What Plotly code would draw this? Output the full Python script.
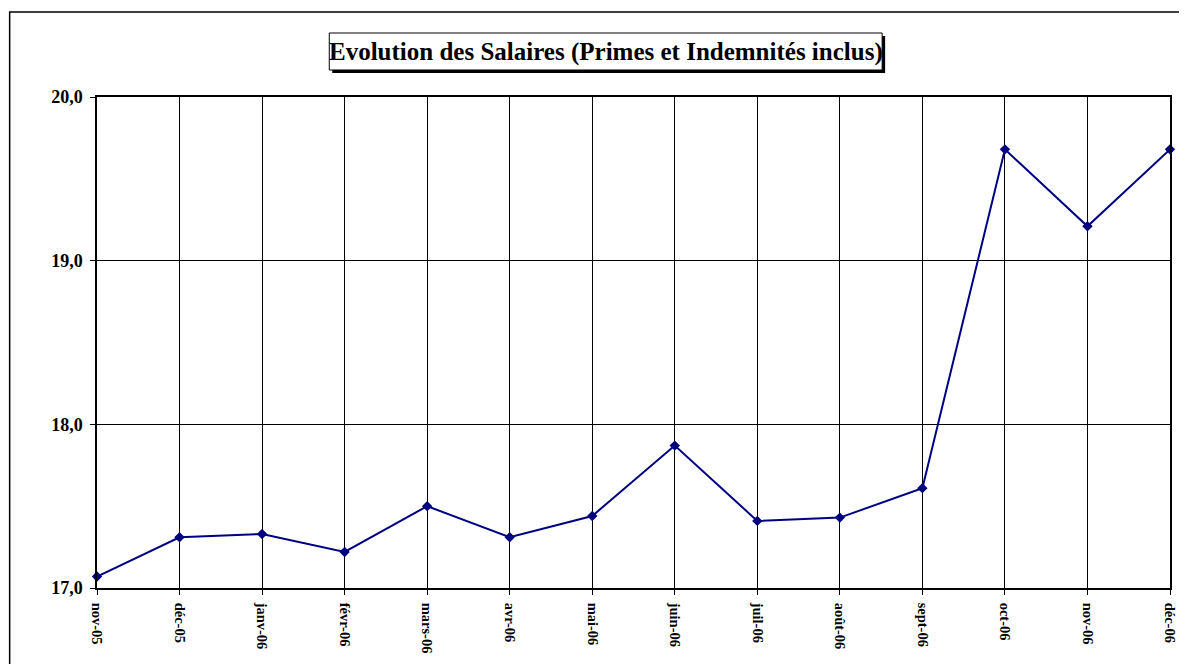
import plotly.graph_objects as go

months = ["nov-05", "déc-05", "janv-06", "févr-06", "mars-06", "avr-06", "mai-06",
          "juin-06", "juil-06", "août-06", "sept-06", "oct-06", "nov-06", "déc-06"]
salaires = [17.07, 17.31, 17.33, 17.22, 17.50, 17.31, 17.44,
            17.87, 17.41, 17.43, 17.61, 19.68, 19.21, 19.68]
title_text = "Evolution des Salaires (Primes et Indemnités inclus)"

# page body has an 8px margin; figure coordinates are screen coords minus 8
OFF = 8
W, H = 1187 - OFF, 664 - OFF
L, R, T, B = 97 - OFF, 1178 - OFF, 97 - OFF, 588 - OFF
pw, ph = R - L, B - T

def px(x):
    return (x - OFF - L) / pw

def py(y):
    return (B - (y - OFF)) / ph

fig = go.Figure()
fig.add_trace(go.Scatter(
    x=months, y=salaires, mode="lines+markers",
    line=dict(color="#000080", width=2),
    marker=dict(symbol="diamond", size=8, color="#000080"),
    showlegend=False, cliponaxis=False,
))

font = "Liberation Serif, Times New Roman, serif"
fig.update_layout(
    width=W, height=H,
    margin=dict(l=L, r=W - R, t=T, b=H - B),
    paper_bgcolor="white", plot_bgcolor="white",
    separators=", ",
    font=dict(family=font, color="black"),
    xaxis=dict(
        type="category", range=[0, len(months) - 1],
        showgrid=True, gridcolor="black", gridwidth=1,
        showline=True, linecolor="black", linewidth=1.5, mirror=True,
        ticks="outside", ticklen=5, tickcolor="black",
        tickangle=90, ticklabelstandoff=5,
        tickfont=dict(family=font, size=14.5, color="black", weight="bold"),
        zeroline=False,
    ),
    yaxis=dict(
        range=[17, 20], dtick=1, tickformat=".1f",
        showgrid=True, gridcolor="black", gridwidth=1,
        showline=True, linecolor="black", linewidth=1.5, mirror=True,
        ticks="outside", ticklen=5, tickcolor="black", ticklabelstandoff=4,
        tickfont=dict(family=font, size=18, color="black", weight="bold"),
        zeroline=False,
    ),
    shapes=[
        # outer chart border
        dict(type="rect", xref="paper", yref="paper",
             x0=px(9), x1=px(1400), y0=py(900), y1=py(12),
             line=dict(color="black", width=1.5), fillcolor="rgba(0,0,0,0)", layer="above"),
        # title shadow
        dict(type="rect", xref="paper", yref="paper",
             x0=px(334), x1=px(891), y0=py(73), y1=py(36),
             line=dict(width=0), fillcolor="black", layer="above"),
        # title box
        dict(type="rect", xref="paper", yref="paper",
             x0=px(331), x1=px(888), y0=py(70), y1=py(33),
             line=dict(color="black", width=1), fillcolor="white", layer="above"),
    ],
    annotations=[
        dict(text="<b>" + title_text + "</b>", xref="paper", yref="paper",
             x=px(610), y=py(52), xanchor="center", yanchor="middle",
             showarrow=False, font=dict(family=font, size=25, color="black")),
    ],
)

fig.write_html("out.html")
